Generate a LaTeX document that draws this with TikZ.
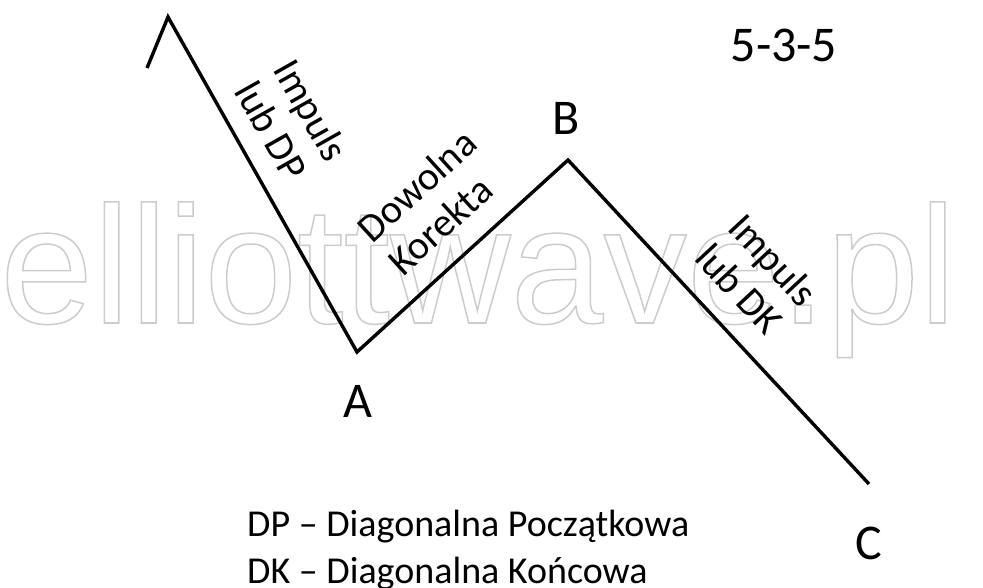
\documentclass[tikz,border=0pt]{standalone}
\usepackage{fontspec}
\setmainfont{Carlito}
\newfontfamily\wmfont{Liberation Sans}
\begin{document}
\begin{tikzpicture}[x=1pt,y=1pt,
  wave/.style={line width=3.4pt,black},
  lbl/.style={font=\fontsize{40}{45}\selectfont,align=left,inner sep=0pt},
  pt/.style={font=\fontsize{50}{52}\selectfont,inner sep=0pt},
  legend/.style={font=\fontsize{38}{47}\selectfont,align=left,inner sep=0pt}]
\useasboundingbox (0,0) rectangle (983,587);
% watermark
\node[anchor=base west,inner sep=0pt,text=black!20] (wm) at (0,264)
  {\wmfont\fontsize{167}{170}\selectfont\special{pdf:literal direct 1 Tr 1.5 w}elliottwave.pl\special{pdf:literal direct 0 Tr}};
% wave
\coordinate (s) at (147,519);
\coordinate (p) at (168,570);
\coordinate (a) at (357,235);
\coordinate (b) at (568,427);
\coordinate (c) at (869,103);
\draw[wave] (s) -- (p) -- (a) -- (b) -- (c);
% labels
\node[lbl,rotate=-60.6] (l1) at (292,466) {Impuls\\lub DP};
\node[lbl,rotate=42.3] (l2) at (432,385) {Dowolna\\Korekta};
\node[lbl,rotate=-47.1] (l3) at (757,312) {Impuls\\lub DK};
\node[pt] (la) at (358,186) {A};
\node[pt] (lb) at (566,469) {B};
\node[pt] (lc) at (869,44) {C};
\node[pt] (t) at (784,542) {5-3-5};
\node[legend,anchor=base west] (lg) at (247,4) {DP -- Diagonalna Początkowa\\DK -- Diagonalna Końcowa};
\end{tikzpicture}
\end{document}
